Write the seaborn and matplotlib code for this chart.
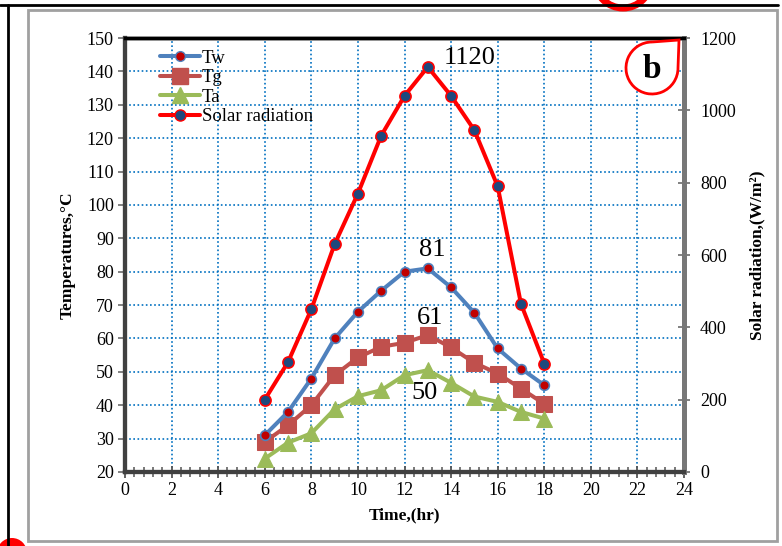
import numpy as np
import pandas as pd
import matplotlib
matplotlib.use("Agg")
import matplotlib.pyplot as plt
import seaborn as sns
from matplotlib.patches import Rectangle, Circle, PathPatch
from matplotlib.path import Path
from matplotlib.lines import Line2D
from matplotlib.transforms import IdentityTransform
from matplotlib.ticker import MultipleLocator

# data
hours = [6, 7, 8, 9, 10, 11, 12, 13, 14, 15, 16, 17, 18]
tw = [31, 38, 48, 60, 68, 74.3, 80, 81, 75.3, 67.7, 57, 51, 46]
tg = [29, 34, 40, 49, 54.3, 57.5, 58.7, 61, 57.3, 52.7, 49.5, 45, 40.4]
ta = [24, 28.8, 31.6, 38.8, 42.7, 44.5, 49, 50.5, 46.7, 42.6, 41, 38, 36]
solar = [200, 304, 450, 630, 770, 930, 1040, 1120, 1040, 945, 790, 465, 300]

df = pd.DataFrame({"hour": hours, "Tw": tw, "Tg": tg, "Ta": ta, "Solar": solar})

W, H = 782, 546
sns.set_style("white")
plt.rcParams["font.family"] = ["Liberation Serif", "DejaVu Serif"]
plt.rcParams["text.color"] = "black"
plt.rcParams["axes.labelcolor"] = "black"

fig = plt.figure(figsize=(W / 100, H / 100), dpi=100)
ax = fig.add_axes([125 / W, 1 - 472 / H, (684 - 125) / W, (472 - 38) / H])
ax2 = ax.twinx()

c_tw, c_tg, c_ta, c_sr = "#4F81BD", "#C0504D", "#9BBB59", "#FF0000"
lw = 2.9

sns.lineplot(data=df, x="hour", y="Tw", ax=ax, color=c_tw, lw=lw, marker="o",
             markersize=7, markerfacecolor="#C00000", markeredgecolor=c_tw,
             markeredgewidth=1.2, zorder=4)
sns.lineplot(data=df, x="hour", y="Tg", ax=ax, color=c_tg, lw=lw, marker="s",
             markersize=11, markerfacecolor=c_tg, markeredgecolor=c_tg, zorder=3)
sns.lineplot(data=df, x="hour", y="Ta", ax=ax, color=c_ta, lw=lw, marker="^",
             markersize=11, markerfacecolor=c_ta, markeredgecolor=c_ta, zorder=3)
sns.lineplot(data=df, x="hour", y="Solar", ax=ax2, color=c_sr, lw=lw, marker="o",
             markersize=8, markerfacecolor="#1F497D", markeredgecolor=c_sr,
             markeredgewidth=1.2, zorder=4)

ax.set_xlim(0, 24)
ax.set_ylim(20, 150)
ax2.set_ylim(0, 1200)
ax.xaxis.set_major_locator(MultipleLocator(2))
ax.xaxis.set_minor_locator(MultipleLocator(0.4))
ax.yaxis.set_major_locator(MultipleLocator(10))
ax2.yaxis.set_major_locator(MultipleLocator(200))

ax.grid(True, which="major", color="#0070C0", linestyle=(0, (1, 1.5)), lw=1.2)
ax2.grid(False)
ax.set_axisbelow(True)

fs = 13
ax.tick_params(axis="x", which="major", bottom=True, direction="inout", length=9,
               width=1.3, color="#555555", labelcolor="black", labelsize=fs, pad=3)
ax.tick_params(axis="x", which="minor", bottom=True, direction="inout", length=7,
               width=1.1, color="#555555")
ax.tick_params(axis="y", which="major", left=True, direction="out", length=5,
               width=1.3, color="#777777", labelcolor="black", labelsize=fs, pad=3)
ax2.tick_params(axis="y", which="major", right=True, direction="inout", length=9,
                width=1.3, color="#777777", labelcolor="black", labelsize=fs, pad=7)

for s, c, w in [("left", "#404040", 3), ("bottom", "#404040", 3),
                ("top", "#000000", 2.5), ("right", "#777777", 3.5)]:
    ax.spines[s].set_color(c)
    ax.spines[s].set_linewidth(w)
    ax2.spines[s].set_color(c)
    ax2.spines[s].set_linewidth(w)

ax.set_xlabel("Time,(hr)", fontsize=12.5, fontweight="bold", labelpad=6)
ax.set_ylabel("Temperatures,\u00b0C", fontsize=12.5, fontweight="bold", labelpad=8)
ax2.set_ylabel("Solar radiation,(W/m\u00b2)", fontsize=12.5, fontweight="bold", labelpad=10)

# peak labels
ax.text(13.18, 86.5, "81", fontsize=19, ha="center", va="center")
ax.text(13.1, 66.1, "61", fontsize=19, ha="center", va="center")
ax.text(12.88, 43.6, "50", fontsize=19, ha="center", va="center")
ax2.text(14.8, 1145, "1120", fontsize=19, ha="center", va="center")

# legend
handles = [
    Line2D([], [], color=c_tw, lw=lw, marker="o", markersize=7,
           markerfacecolor="#C00000", markeredgecolor=c_tw),
    Line2D([], [], color=c_tg, lw=lw, marker="s", markersize=11,
           markerfacecolor=c_tg, markeredgecolor=c_tg),
    Line2D([], [], color=c_ta, lw=lw, marker="^", markersize=11,
           markerfacecolor=c_ta, markeredgecolor=c_ta),
    Line2D([], [], color=c_sr, lw=lw, marker="o", markersize=8,
           markerfacecolor="#1F497D", markeredgecolor=c_sr),
]
leg = ax.legend(handles, ["Tw", "Tg", "Ta", "Solar radiation"], loc="upper left",
                bbox_to_anchor=(0.05, 0.99), frameon=False, fontsize=13.5,
                handlelength=2.1, handletextpad=0.1, labelspacing=0.12,
                borderaxespad=0)
if ax2.get_legend() is not None:
    ax2.get_legend().remove()

# "b" badge in the top right corner of the plot area (pixel coords)
def disp(x, y):
    return (x, H - y)

cx, cy, r = 652, 68, 26
arc = Path.arc(90, 360)
verts = [disp(cx + r * vx, cy - r * vy) for vx, vy in arc.vertices]
verts += [disp(679, 40), disp(cx, cy - r)]
codes = list(arc.codes) + [Path.LINETO, Path.LINETO]
fig.patches.append(PathPatch(Path(verts, codes), facecolor="white", edgecolor="red",
                             lw=2, transform=IdentityTransform(), figure=fig, zorder=10))
fig.text(cx / W, 1 - (cy + 1) / H, "b", fontsize=24, fontweight="bold",
         ha="center", va="center", zorder=11)

# page frame and scan marks
fig.patches.append(Rectangle(disp(28, 541), 749, 531, fill=False, edgecolor="#A0A0A0",
                             lw=2, transform=IdentityTransform(), figure=fig))
fig.lines.append(Line2D([0, 778], [H - 5, H - 5], color="black", lw=2,
                        transform=IdentityTransform(), figure=fig))
fig.lines.append(Line2D([8, 8], [H - 5, 0], color="black", lw=2,
                        transform=IdentityTransform(), figure=fig))
fig.patches.append(Circle(disp(623, -20), 28, fill=False, edgecolor="red", lw=5,
                          transform=IdentityTransform(), figure=fig))
fig.patches.append(Circle(disp(12, 553), 15, facecolor="red", edgecolor="none",
                          transform=IdentityTransform(), figure=fig))

fig.savefig("out.png", dpi=100)
